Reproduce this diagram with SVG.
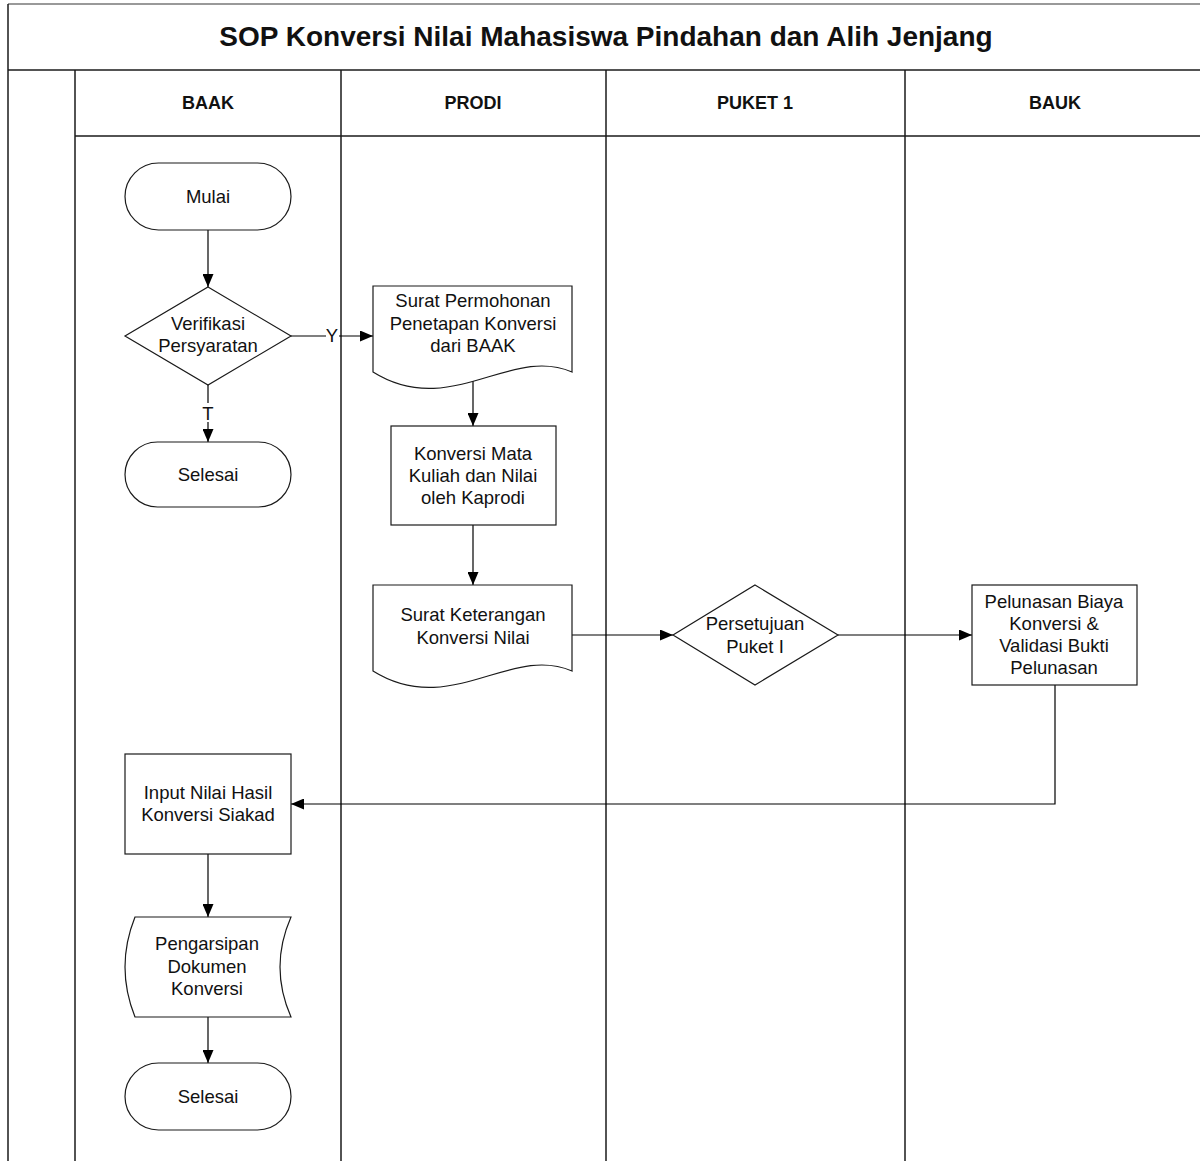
<svg xmlns="http://www.w3.org/2000/svg" width="1200" height="1161" viewBox="0 0 1200 1161">
<style>
.frame{stroke:#1a1a1a;stroke-width:1.5;fill:none}
.shape{fill:#fff;stroke:#1a1a1a;stroke-width:1.2}
.conn{fill:none;stroke:#000;stroke-width:1.2}
text{font-family:"Liberation Sans",Arial,sans-serif;fill:#111}
.t{font-size:18.5px;text-anchor:middle}
.h{font-size:18px;font-weight:bold;text-anchor:middle}
.title{font-size:28px;font-weight:bold;text-anchor:middle}
</style>
<defs>
<marker id="arr" markerWidth="13" markerHeight="11" refX="13" refY="5.5" orient="auto" markerUnits="userSpaceOnUse">
<path d="M0,0 L13,5.5 L0,11 Z" fill="#000"/>
</marker>
</defs>
<rect x="0" y="0" width="1200" height="1161" fill="#fff"/>
<g id="frame">
<line x1="8" y1="4" x2="1200" y2="4" stroke="#777" stroke-width="1.5"/>
<line class="frame" x1="8" y1="4" x2="8" y2="1161"/>
<line class="frame" x1="8" y1="70" x2="1200" y2="70"/>
<line class="frame" x1="75" y1="136" x2="1200" y2="136"/>
<line class="frame" x1="75" y1="70" x2="75" y2="1161"/>
<line class="frame" x1="341" y1="70" x2="341" y2="1161"/>
<line class="frame" x1="606" y1="70" x2="606" y2="1161"/>
<line class="frame" x1="905" y1="70" x2="905" y2="1161"/>
<text class="title" x="606" y="46">SOP Konversi Nilai Mahasiswa Pindahan dan Alih Jenjang</text>
<text class="h" x="208" y="109">BAAK</text>
<text class="h" x="473" y="109">PRODI</text>
<text class="h" x="755" y="109">PUKET 1</text>
<text class="h" x="1055" y="109">BAUK</text>
</g>
<g id="connectors">
<line class="conn" x1="208" y1="230" x2="208" y2="287" marker-end="url(#arr)"/>
<line class="conn" x1="291" y1="336" x2="326" y2="336"/>
<line class="conn" x1="339" y1="336" x2="373" y2="336" marker-end="url(#arr)"/>
<text class="t" x="332" y="342">Y</text>
<line class="conn" x1="208" y1="385" x2="208" y2="403"/>
<line class="conn" x1="208" y1="422" x2="208" y2="442" marker-end="url(#arr)"/>
<text class="t" x="208" y="420">T</text>
<line class="conn" x1="473" y1="379" x2="473" y2="426" marker-end="url(#arr)"/>
<line class="conn" x1="473" y1="525" x2="473" y2="585" marker-end="url(#arr)"/>
<line class="conn" x1="572" y1="635" x2="673" y2="635" marker-end="url(#arr)"/>
<line class="conn" x1="838" y1="635" x2="972" y2="635" marker-end="url(#arr)"/>
<polyline class="conn" points="1055,685 1055,804 291,804" marker-end="url(#arr)"/>
<line class="conn" x1="208" y1="854" x2="208" y2="917" marker-end="url(#arr)"/>
<line class="conn" x1="208" y1="1017" x2="208" y2="1063" marker-end="url(#arr)"/>
</g>
<g id="mulai">
<rect class="shape" x="125" y="163" width="166" height="67" rx="33.5" ry="33.5"/>
<text class="t" x="208" y="203">Mulai</text>
</g>
<g id="verifikasi">
<polygon class="shape" points="208,287 291,336 208,385 125,336"/>
<text class="t" x="208" y="330">Verifikasi</text>
<text class="t" x="208" y="352">Persyaratan</text>
</g>
<g id="selesai1">
<rect class="shape" x="125" y="442" width="166" height="65" rx="32.5" ry="32.5"/>
<text class="t" x="208" y="481">Selesai</text>
</g>
<g id="surat-permohonan">
<path class="shape" d="M373,286 H572 V372 C510,345 450,420 373,372 Z"/>
<text class="t" x="473" y="307">Surat Permohonan</text>
<text class="t" x="473" y="330">Penetapan Konversi</text>
<text class="t" x="473" y="352">dari BAAK</text>
</g>
<g id="konversi-mk">
<rect class="shape" x="391" y="426" width="165" height="99"/>
<text class="t" x="473" y="460">Konversi Mata</text>
<text class="t" x="473" y="482">Kuliah dan Nilai</text>
<text class="t" x="473" y="504">oleh Kaprodi</text>
</g>
<g id="surat-keterangan">
<path class="shape" d="M373,585 H572 V671 C510,644 450,719 373,671 Z"/>
<text class="t" x="473" y="621">Surat Keterangan</text>
<text class="t" x="473" y="644">Konversi Nilai</text>
</g>
<g id="persetujuan">
<polygon class="shape" points="755,585 838,635 755,685 673,635"/>
<text class="t" x="755" y="630">Persetujuan</text>
<text class="t" x="755" y="653">Puket I</text>
</g>
<g id="pelunasan">
<rect class="shape" x="972" y="585" width="165" height="100"/>
<text class="t" x="1054" y="608">Pelunasan Biaya</text>
<text class="t" x="1054" y="630">Konversi &amp;</text>
<text class="t" x="1054" y="652">Validasi Bukti</text>
<text class="t" x="1054" y="674">Pelunasan</text>
</g>
<g id="input-nilai">
<rect class="shape" x="125" y="754" width="166" height="100"/>
<text class="t" x="208" y="799">Input Nilai Hasil</text>
<text class="t" x="208" y="821">Konversi Siakad</text>
</g>
<g id="pengarsipan">
<path class="shape" d="M135,917 H291 Q269,967 291,1017 H135 Q115,967 135,917 Z"/>
<text class="t" x="207" y="950">Pengarsipan</text>
<text class="t" x="207" y="973">Dokumen</text>
<text class="t" x="207" y="995">Konversi</text>
</g>
<g id="selesai2">
<rect class="shape" x="125" y="1063" width="166" height="67" rx="33.5" ry="33.5"/>
<text class="t" x="208" y="1103">Selesai</text>
</g>
</svg>
